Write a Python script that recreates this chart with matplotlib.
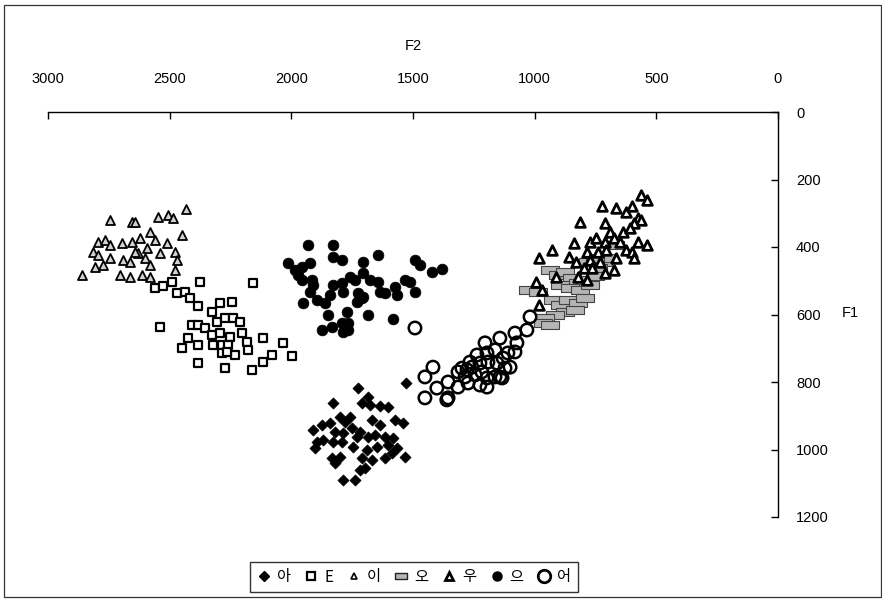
import matplotlib
matplotlib.use("Agg")
import matplotlib.pyplot as plt
from matplotlib.lines import Line2D
from matplotlib.patches import Rectangle
from matplotlib.path import Path

plt.rcParams['font.family'] = ['Liberation Sans', 'Noto Sans CJK KR', 'DejaVu Sans']

# ---- formant data (F2, F1 in Hz) ----
a_f2 = [1529, 1726, 1829, 1685, 1710, 1677, 1636, 1603, 1800, 1759, 1911, 1874, 1821, 1788,
        1751, 1718, 1685, 1656, 1636, 1615, 1582, 1574, 1541, 1895, 1870, 1829, 1792, 1747,
        1689, 1648, 1603, 1566, 1903, 1833, 1800, 1710, 1669, 1615, 1587, 1533, 1821, 1718,
        1697, 1788, 1738, 1841, 1669, 1730, 1780]
a_f1 = [803, 818, 862, 844, 862, 868, 871, 874, 904, 904, 942, 927, 948, 951,
        936, 948, 963, 957, 927, 963, 966, 913, 921, 978, 972, 978, 978, 993,
        1001, 993, 987, 996, 996, 1025, 1022, 1025, 1031, 1025, 1010, 1022, 1040, 1061,
        1055, 1090, 1090, 921, 913, 963, 918]

e_f2 = [2561, 2528, 2491, 2376, 2158, 2470, 2437, 2417, 2384, 2293, 2244, 2326, 2540, 2408,
        2384, 2355, 2306, 2273, 2240, 2211, 2425, 2384, 2326, 2293, 2252, 2203, 2182, 2450,
        2322, 2285, 2260, 2117, 2034, 2285, 2232, 2265, 2178, 2384, 2273, 2162, 2117, 2080,
        1997]
e_f1 = [521, 516, 504, 504, 507, 536, 533, 551, 575, 566, 563, 593, 637, 631,
        631, 640, 622, 610, 610, 622, 670, 690, 661, 655, 666, 655, 681, 699,
        690, 690, 690, 670, 684, 714, 720, 711, 705, 744, 759, 764, 741, 720,
        723]

i_f2 = [2433, 2745, 2655, 2643, 2548, 2507, 2487, 2450, 2795, 2766, 2745, 2696, 2655, 2622,
        2581, 2561, 2511, 2815, 2795, 2745, 2692, 2663, 2630, 2602, 2581, 2540, 2478, 2470,
        2861, 2704, 2663, 2614, 2581, 2478, 2807, 2774, 2643, 2593]
i_f1 = [287, 320, 326, 326, 311, 305, 314, 364, 385, 379, 394, 388, 385, 373,
        356, 379, 388, 415, 424, 433, 439, 444, 418, 433, 453, 418, 415, 439,
        483, 483, 489, 483, 489, 468, 459, 453, 415, 403]

o_f2 = [937, 904, 875, 847, 822, 793, 896, 855, 814, 773, 752, 719, 703, 740, 781,
        1028, 986, 925, 896, 863, 822, 793, 875, 916, 958, 966, 937, 834, 752, 670]
o_f1 = [468, 483, 474, 492, 507, 498, 513, 521, 527, 513, 486, 444, 433, 462, 444,
        527, 533, 557, 572, 557, 566, 551, 593, 601, 610, 625, 631, 587, 433, 394]

u_f2 = [565, 537, 724, 664, 624, 600, 813, 713, 575, 561, 591, 689, 635, 610, 837, 773,
        748, 713, 675, 649, 575, 537, 930, 984, 857, 832, 783, 738, 708, 664, 624, 600,
        591, 773, 733, 797, 763, 713, 675, 911, 822, 783, 995, 970, 984]
u_f1 = [246, 261, 279, 284, 296, 279, 326, 329, 314, 320, 329, 356, 356, 344, 388, 385,
        373, 385, 373, 385, 385, 394, 409, 433, 430, 444, 415, 415, 409, 433, 409, 415,
        433, 439, 444, 462, 462, 477, 468, 489, 489, 498, 504, 527, 572]

eu_f2 = [1932, 1829, 2014, 1985, 1956, 1923, 1829, 1792, 1706, 1644, 1492, 1471, 1422, 1381,
         1973, 1956, 1915, 1911, 1829, 1792, 1759, 1738, 1706, 1677, 1644, 1923, 1841, 1788,
         1726, 1706, 1636, 1615, 1574, 1566, 1533, 1512, 1492, 1952, 1895, 1862, 1730, 1710,
         1850, 1771, 1685, 1582, 1874, 1833, 1792, 1767, 1788, 1767]
eu_f1 = [394, 394, 447, 468, 459, 447, 430, 439, 444, 424, 439, 453, 474, 465,
         483, 498, 498, 513, 513, 507, 489, 498, 477, 498, 504, 533, 542, 533,
         536, 548, 533, 536, 518, 542, 498, 504, 533, 566, 557, 566, 563, 551,
         601, 593, 601, 613, 646, 637, 625, 625, 652, 646]

eo_f2 = [1492, 1418, 1451, 1402, 1451, 1361, 1356, 1356, 1315, 1299, 1278, 1258, 1315, 1274,
         1245, 1217, 1196, 1163, 1134, 1225, 1196, 1204, 1143, 1237, 1196, 1163, 1225, 1192,
         1155, 1130, 1110, 1081, 1122, 1101, 1073, 1081, 1032, 1143, 1266, 1286, 1019]
eo_f1 = [640, 756, 785, 818, 847, 853, 847, 800, 770, 759, 764, 756, 815, 803,
         779, 770, 788, 785, 788, 809, 815, 684, 670, 720, 714, 705, 744, 741,
         744, 729, 714, 711, 759, 756, 684, 655, 646, 785, 741, 785, 607]

labels = ['아', 'E', '이', '오', '우', '으', '어']

# horizontal bar marker for 오
bar_marker = Path([(-1, -0.45), (1, -0.45), (1, 0.45), (-1, 0.45), (-1, -0.45)],
                  [Path.MOVETO, Path.LINETO, Path.LINETO, Path.LINETO, Path.CLOSEPOLY])

styles = [
    dict(marker='D', s=32, facecolors='black', edgecolors='black', linewidths=0.5),
    dict(marker='s', s=40, facecolors='white', edgecolors='black', linewidths=1.6),
    dict(marker='^', s=42, facecolors='#d2d2d2', edgecolors='black', linewidths=1.3),
    dict(marker=bar_marker, s=150, facecolors='#b5b5b5', edgecolors='#444444', linewidths=0.8),
    dict(marker='^', s=48, facecolors='white', edgecolors='black', linewidths=2.0),
    dict(marker='o', s=60, facecolors='black', edgecolors='black', linewidths=0.5),
    dict(marker='o', s=80, facecolors='none', edgecolors='black', linewidths=1.8),
]

series = [(a_f2, a_f1), (e_f2, e_f1), (i_f2, i_f1), (o_f2, o_f1),
          (u_f2, u_f1), (eu_f2, eu_f1), (eo_f2, eo_f1)]

fig = plt.figure(figsize=(8.82, 6.0), dpi=100)
ax = fig.add_axes([48 / 882, 1 - 517 / 600, (778 - 48) / 882, (517 - 112) / 600])

# draw order: 오 under the triangles
order = [3, 1, 0, 5, 6, 2, 4]
for k in order:
    x, y = series[k]
    ax.scatter(x, y, label=labels[k], zorder=3, **styles[k])

ax.set_xlim(3000, 0)
ax.set_ylim(1200, 0)
ax.set_xticks([3000, 2500, 2000, 1500, 1000, 500, 0])
ax.set_yticks([0, 200, 400, 600, 800, 1000, 1200])

ax.xaxis.tick_top()
ax.yaxis.tick_right()
ax.spines['left'].set_visible(False)
ax.spines['bottom'].set_visible(False)
for sp in ('top', 'right'):
    ax.spines[sp].set_linewidth(1.0)
ax.tick_params(axis='x', direction='in', length=5, width=1, pad=19, labelsize=10.5)
ax.tick_params(axis='y', direction='in', length=5, width=1, pad=13, labelsize=10.5)
ax.set_facecolor('none')

fig.text(413 / 882, 1 - 46 / 600, 'F2', ha='center', va='center', fontsize=10.5)
fig.text(842 / 882, 1 - 313 / 600, 'F1', ha='left', va='center', fontsize=10.5)

# legend
handles = [
    Line2D([], [], ls='none', marker='D', ms=5, mfc='black', mec='black'),
    Line2D([], [], ls='none', marker='s', ms=6, mfc='white', mec='black', mew=1.6),
    Line2D([], [], ls='none', marker='^', ms=5, mfc='white', mec='black', mew=1.2),
    Line2D([], [], ls='none', marker=bar_marker, ms=9, mfc='#b5b5b5', mec='#222222', mew=1.0),
    Line2D([], [], ls='none', marker='^', ms=6, mfc='white', mec='black', mew=2.0),
    Line2D([], [], ls='none', marker='o', ms=6.5, mfc='black', mec='black'),
    Line2D([], [], ls='none', marker='o', ms=9, mfc='white', mec='black', mew=2.0),
]
leg = fig.legend(handles, labels, loc='center', bbox_to_anchor=(414 / 882, 1 - 577 / 600),
                 ncol=7, frameon=True, fancybox=False, edgecolor='black',
                 handlelength=0.9, handletextpad=0.4, columnspacing=0.9,
                 borderpad=0.45, fontsize=11,
                 prop={'family': ['Noto Sans CJK KR', 'DejaVu Sans'], 'size': 11})
leg.get_frame().set_linewidth(1.0)

# outer chart-area border
fig.patches.append(Rectangle((4 / 882, 3 / 600), 877 / 882, 592 / 600,
                             transform=fig.transFigure, fill=False,
                             edgecolor='#333333', linewidth=0.9))

fig.savefig('out.png', dpi=100)
